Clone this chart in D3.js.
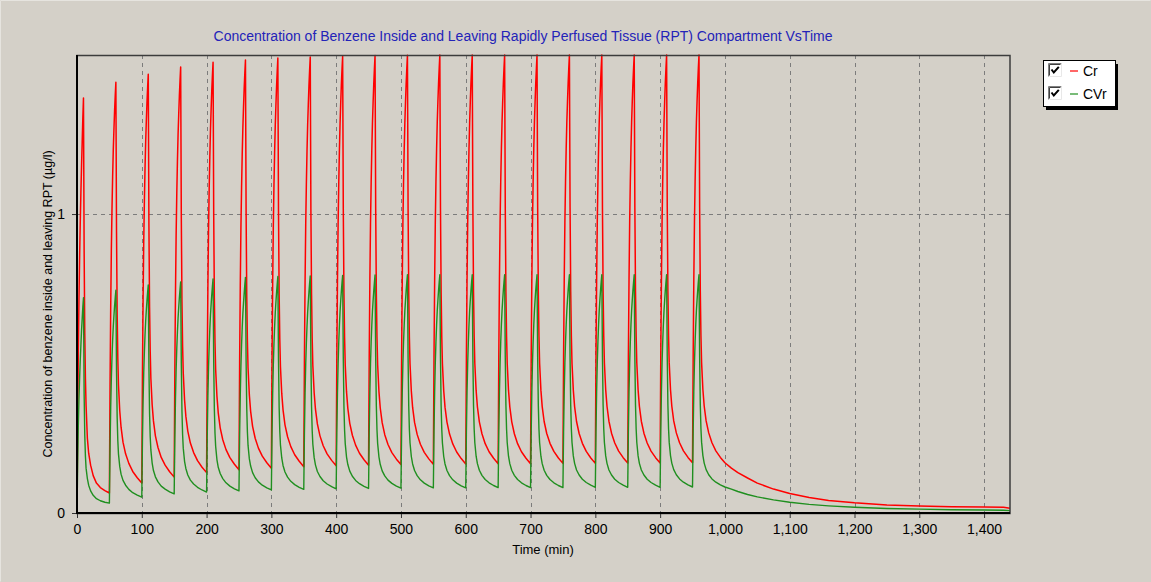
<!DOCTYPE html>
<html>
<head>
<meta charset="utf-8">
<script src="https://cdn.jsdelivr.net/npm/d3@7"></script>
<style>
  html, body { margin: 0; padding: 0; background: #d4d0c8; }
  svg { display: block; font-family: "Liberation Sans", Arial, sans-serif; }
</style>
</head>
<body>
<svg id="chart" width="1151" height="582"></svg>
<script>
// Exposure starts (min): a 10-minute exposure at the start of every 50-minute cycle
const cycleStarts = [0, 50, 100, 150, 200, 250, 300, 350, 400, 450, 500, 550, 600, 650, 700, 750, 800, 850, 900, 950];

// Minutes after each exposure start at which the model output was sampled
const sampleOffsets = [0, 1, 2, 3, 4, 5, 6, 7, 8, 9, 10, 11, 12, 13, 14, 16, 18, 21, 25, 30, 36, 43];

// Cr: concentration inside the RPT compartment (µg/l), one row per cycle
const crCycles = [
  [0.000, 0.300, 0.530, 0.710, 0.850, 0.970, 1.070, 1.160, 1.240, 1.320, 1.388, 0.880, 0.600, 0.450, 0.360, 0.250, 0.200, 0.160, 0.125, 0.100, 0.085, 0.075],
  [0.067, 0.424, 0.685, 0.878, 1.015, 1.125, 1.214, 1.283, 1.345, 1.396, 1.441, 0.940, 0.665, 0.517, 0.429, 0.341, 0.287, 0.237, 0.198, 0.166, 0.139, 0.118],
  [0.100, 0.456, 0.716, 0.907, 1.044, 1.153, 1.242, 1.311, 1.372, 1.423, 1.468, 0.965, 0.688, 0.540, 0.451, 0.362, 0.308, 0.258, 0.219, 0.186, 0.160, 0.138],
  [0.120, 0.477, 0.737, 0.929, 1.067, 1.176, 1.266, 1.334, 1.396, 1.447, 1.492, 0.985, 0.707, 0.557, 0.468, 0.379, 0.324, 0.274, 0.234, 0.202, 0.175, 0.153],
  [0.135, 0.492, 0.753, 0.945, 1.082, 1.192, 1.281, 1.350, 1.412, 1.463, 1.508, 1.000, 0.720, 0.570, 0.480, 0.390, 0.335, 0.285, 0.245, 0.212, 0.185, 0.163],
  [0.145, 0.501, 0.762, 0.953, 1.090, 1.200, 1.289, 1.357, 1.419, 1.470, 1.515, 1.005, 0.725, 0.575, 0.485, 0.395, 0.340, 0.290, 0.250, 0.217, 0.190, 0.168],
  [0.150, 0.507, 0.767, 0.959, 1.097, 1.206, 1.296, 1.364, 1.426, 1.477, 1.522, 1.010, 0.730, 0.580, 0.490, 0.400, 0.345, 0.295, 0.255, 0.222, 0.195, 0.173],
  [0.155, 0.511, 0.772, 0.963, 1.100, 1.210, 1.299, 1.367, 1.429, 1.480, 1.525, 1.013, 0.733, 0.583, 0.493, 0.403, 0.348, 0.298, 0.258, 0.225, 0.198, 0.176],
  [0.158, 0.514, 0.775, 0.966, 1.103, 1.213, 1.302, 1.370, 1.432, 1.483, 1.528, 1.015, 0.735, 0.585, 0.495, 0.405, 0.350, 0.300, 0.260, 0.227, 0.200, 0.178],
  [0.160, 0.516, 0.777, 0.968, 1.105, 1.215, 1.304, 1.372, 1.434, 1.485, 1.530, 1.017, 0.737, 0.587, 0.497, 0.407, 0.352, 0.302, 0.262, 0.229, 0.202, 0.180],
  [0.162, 0.518, 0.778, 0.970, 1.107, 1.216, 1.305, 1.374, 1.435, 1.486, 1.531, 1.018, 0.738, 0.588, 0.498, 0.408, 0.353, 0.303, 0.263, 0.230, 0.203, 0.181],
  [0.163, 0.519, 0.779, 0.971, 1.108, 1.217, 1.306, 1.375, 1.436, 1.487, 1.532, 1.019, 0.739, 0.589, 0.499, 0.409, 0.354, 0.304, 0.264, 0.231, 0.204, 0.182],
  [0.164, 0.519, 0.780, 0.971, 1.108, 1.217, 1.306, 1.375, 1.436, 1.487, 1.532, 1.020, 0.740, 0.590, 0.500, 0.410, 0.355, 0.305, 0.265, 0.232, 0.205, 0.183],
  [0.165, 0.520, 0.780, 0.972, 1.109, 1.218, 1.307, 1.375, 1.436, 1.487, 1.532, 1.020, 0.740, 0.590, 0.500, 0.410, 0.355, 0.305, 0.265, 0.232, 0.205, 0.183],
  [0.165, 0.520, 0.780, 0.972, 1.109, 1.218, 1.307, 1.375, 1.436, 1.487, 1.532, 1.021, 0.741, 0.591, 0.501, 0.411, 0.356, 0.306, 0.266, 0.233, 0.206, 0.184],
  [0.166, 0.521, 0.781, 0.972, 1.109, 1.218, 1.307, 1.375, 1.436, 1.487, 1.532, 1.021, 0.741, 0.591, 0.501, 0.411, 0.356, 0.306, 0.266, 0.233, 0.206, 0.184],
  [0.166, 0.521, 0.781, 0.972, 1.109, 1.218, 1.307, 1.375, 1.436, 1.487, 1.532, 1.022, 0.742, 0.592, 0.502, 0.412, 0.357, 0.307, 0.267, 0.234, 0.207, 0.185],
  [0.167, 0.522, 0.781, 0.973, 1.110, 1.219, 1.307, 1.376, 1.437, 1.487, 1.532, 1.022, 0.742, 0.592, 0.502, 0.412, 0.357, 0.307, 0.267, 0.234, 0.207, 0.185],
  [0.167, 0.522, 0.781, 0.973, 1.110, 1.219, 1.307, 1.376, 1.437, 1.487, 1.532, 1.023, 0.743, 0.593, 0.503, 0.413, 0.358, 0.308, 0.268, 0.235, 0.208, 0.186],
  [0.168, 0.523, 0.782, 0.973, 1.110, 1.219, 1.308, 1.376, 1.437, 1.488, 1.532, 1.023, 0.743, 0.593, 0.503, 0.413, 0.358, 0.308, 0.268, 0.235, 0.208, 0.186]
];

// CVr: concentration in venous blood leaving the RPT compartment (µg/l), one row per cycle
const cvrCycles = [
  [0.000, 0.160, 0.290, 0.380, 0.450, 0.510, 0.560, 0.610, 0.650, 0.690, 0.720, 0.400, 0.260, 0.190, 0.150, 0.115, 0.093, 0.074, 0.059, 0.048, 0.041, 0.036],
  [0.033, 0.218, 0.353, 0.450, 0.521, 0.578, 0.624, 0.660, 0.692, 0.720, 0.745, 0.474, 0.319, 0.242, 0.198, 0.155, 0.130, 0.109, 0.093, 0.079, 0.068, 0.060],
  [0.053, 0.238, 0.373, 0.469, 0.539, 0.596, 0.642, 0.678, 0.710, 0.738, 0.763, 0.489, 0.333, 0.255, 0.211, 0.167, 0.142, 0.121, 0.104, 0.090, 0.080, 0.071],
  [0.064, 0.248, 0.383, 0.479, 0.550, 0.606, 0.652, 0.688, 0.720, 0.748, 0.773, 0.498, 0.340, 0.262, 0.217, 0.173, 0.149, 0.127, 0.110, 0.097, 0.086, 0.077],
  [0.070, 0.255, 0.391, 0.487, 0.558, 0.615, 0.662, 0.697, 0.730, 0.758, 0.783, 0.505, 0.347, 0.267, 0.223, 0.178, 0.153, 0.132, 0.115, 0.101, 0.090, 0.081],
  [0.074, 0.260, 0.395, 0.492, 0.563, 0.620, 0.667, 0.702, 0.734, 0.763, 0.788, 0.509, 0.350, 0.271, 0.226, 0.181, 0.157, 0.135, 0.118, 0.104, 0.093, 0.084],
  [0.077, 0.263, 0.398, 0.495, 0.566, 0.623, 0.670, 0.705, 0.737, 0.766, 0.791, 0.512, 0.353, 0.273, 0.228, 0.184, 0.159, 0.137, 0.120, 0.106, 0.095, 0.086],
  [0.079, 0.265, 0.400, 0.497, 0.568, 0.625, 0.672, 0.707, 0.739, 0.768, 0.793, 0.515, 0.356, 0.276, 0.230, 0.186, 0.161, 0.139, 0.122, 0.108, 0.097, 0.088],
  [0.081, 0.267, 0.402, 0.499, 0.570, 0.627, 0.674, 0.709, 0.741, 0.770, 0.795, 0.517, 0.357, 0.277, 0.232, 0.187, 0.162, 0.140, 0.123, 0.109, 0.098, 0.089],
  [0.082, 0.268, 0.403, 0.500, 0.571, 0.628, 0.675, 0.710, 0.742, 0.771, 0.796, 0.518, 0.358, 0.278, 0.233, 0.188, 0.163, 0.141, 0.124, 0.110, 0.099, 0.090],
  [0.083, 0.269, 0.404, 0.501, 0.572, 0.629, 0.676, 0.711, 0.743, 0.772, 0.797, 0.519, 0.359, 0.279, 0.234, 0.189, 0.164, 0.142, 0.125, 0.111, 0.100, 0.091],
  [0.084, 0.270, 0.405, 0.502, 0.572, 0.629, 0.676, 0.711, 0.743, 0.772, 0.797, 0.519, 0.359, 0.279, 0.234, 0.189, 0.164, 0.142, 0.125, 0.111, 0.100, 0.091],
  [0.084, 0.270, 0.405, 0.502, 0.572, 0.629, 0.676, 0.711, 0.743, 0.772, 0.797, 0.520, 0.360, 0.280, 0.235, 0.190, 0.165, 0.143, 0.126, 0.112, 0.101, 0.092],
  [0.085, 0.270, 0.405, 0.502, 0.573, 0.630, 0.676, 0.712, 0.744, 0.772, 0.797, 0.520, 0.360, 0.280, 0.235, 0.190, 0.165, 0.143, 0.126, 0.112, 0.101, 0.092],
  [0.085, 0.270, 0.405, 0.502, 0.573, 0.630, 0.676, 0.712, 0.744, 0.772, 0.797, 0.520, 0.360, 0.280, 0.235, 0.190, 0.165, 0.143, 0.126, 0.112, 0.101, 0.092],
  [0.085, 0.270, 0.405, 0.502, 0.573, 0.630, 0.676, 0.712, 0.744, 0.772, 0.797, 0.521, 0.361, 0.281, 0.236, 0.191, 0.166, 0.144, 0.127, 0.113, 0.102, 0.093],
  [0.086, 0.271, 0.406, 0.503, 0.573, 0.630, 0.677, 0.712, 0.744, 0.772, 0.797, 0.521, 0.361, 0.281, 0.236, 0.191, 0.166, 0.144, 0.127, 0.113, 0.102, 0.093],
  [0.086, 0.271, 0.406, 0.503, 0.573, 0.630, 0.677, 0.712, 0.744, 0.772, 0.797, 0.521, 0.361, 0.281, 0.236, 0.191, 0.166, 0.144, 0.127, 0.113, 0.102, 0.093],
  [0.086, 0.271, 0.406, 0.503, 0.573, 0.630, 0.677, 0.712, 0.744, 0.772, 0.797, 0.522, 0.362, 0.282, 0.237, 0.192, 0.167, 0.145, 0.128, 0.114, 0.103, 0.094],
  [0.087, 0.272, 0.407, 0.503, 0.574, 0.631, 0.677, 0.712, 0.744, 0.773, 0.797, 0.522, 0.362, 0.282, 0.237, 0.192, 0.167, 0.145, 0.128, 0.114, 0.103, 0.094]
];

// Washout after the last exposure (min, µg/l)
const tailTimes = [1000, 1010, 1020, 1035, 1050, 1075, 1100, 1130, 1160, 1200, 1250, 1300, 1350, 1400, 1430, 1440];
const crTail    = [0.168, 0.150, 0.135, 0.117, 0.100, 0.080, 0.065, 0.052, 0.042, 0.034, 0.027, 0.023, 0.021, 0.020, 0.019, 0.016];
const cvrTail   = [0.087, 0.080, 0.072, 0.062, 0.054, 0.044, 0.036, 0.029, 0.024, 0.019, 0.015, 0.013, 0.011, 0.010, 0.009, 0.008];

// Axis ticks
const xTickValues = [0, 100, 200, 300, 400, 500, 600, 700, 800, 900, 1000, 1100, 1200, 1300, 1400];
const xMinorTickValues = [0, 20, 40, 60, 80, 100, 120, 140, 160, 180, 200, 220, 240, 260, 280, 300, 320, 340, 360, 380,
  400, 420, 440, 460, 480, 500, 520, 540, 560, 580, 600, 620, 640, 660, 680, 700, 720, 740, 760, 780,
  800, 820, 840, 860, 880, 900, 920, 940, 960, 980, 1000, 1020, 1040, 1060, 1080, 1100, 1120, 1140, 1160, 1180,
  1200, 1220, 1240, 1260, 1280, 1300, 1320, 1340, 1360, 1380, 1400, 1420, 1440];
const yTickValues = [0, 1];
const yMinorTickValues = [0.25, 0.5, 0.75, 1.25, 1.5];

const seriesNames = ["Cr", "CVr"];
const seriesColors = ["#ff0000", "#1f8f1f"];

const titleText = "Concentration of Benzene Inside and Leaving Rapidly Perfused Tissue (RPT) Compartment VsTime";
const xTitle = "Time (min)";
const yTitle = "Concentration of benzene inside and leaving RPT (\u00b5g/l)";

// Assemble time series from the per-cycle samples plus the washout tail
function buildSeries(cycles, tail) {
  const pts = [];
  cycles.forEach((row, k) => {
    row.forEach((v, i) => pts.push({ t: cycleStarts[k] + sampleOffsets[i], v }));
  });
  tailTimes.forEach((t, i) => pts.push({ t, v: tail[i] }));
  return pts;
}
const crSeries = buildSeries(crCycles, crTail);
const cvrSeries = buildSeries(cvrCycles, cvrTail);

const svg = d3.select("#chart");
const W = 1151, H = 582;
const plot = { left: 77, right: 1010, top: 55, bottom: 513 };
const FONT = "'Liberation Sans', Arial, sans-serif";

// Window-style panel background
svg.append("rect").attr("x", 0).attr("y", 0).attr("width", W).attr("height", H).attr("fill", "#d4d0c8");
svg.append("path").attr("d", `M0.5,${H - 0.5}V0.5H${W - 0.5}`).attr("fill", "none").attr("stroke", "#e6e4df").attr("stroke-width", 1);

const x = d3.scaleLinear().domain([0, 1440]).range([plot.left, plot.right]);
const y = d3.scaleLinear().domain([0, 1.532]).range([plot.bottom, plot.top]);

// Dashed grid
const grid = svg.append("g").attr("stroke", "#7c7c7c").attr("stroke-dasharray", "4,4").attr("stroke-width", 1);
grid.selectAll("line.gx").data(xTickValues.filter(d => d > 0)).join("line")
  .attr("class", "gx")
  .attr("x1", d => Math.round(x(d)) + 0.5).attr("x2", d => Math.round(x(d)) + 0.5)
  .attr("y1", plot.top).attr("y2", plot.bottom);
grid.selectAll("line.gy").data(yTickValues.filter(d => d > 0)).join("line")
  .attr("class", "gy")
  .attr("x1", plot.left).attr("x2", plot.right)
  .attr("y1", d => Math.round(y(d)) + 0.5).attr("y2", d => Math.round(y(d)) + 0.5);

// Series lines, clipped to the plot area
svg.append("clipPath").attr("id", "plotClip").append("rect")
  .attr("x", plot.left).attr("y", plot.top - 1)
  .attr("width", plot.right - plot.left).attr("height", plot.bottom - plot.top + 1);

const line = d3.line().x(d => x(d.t)).y(d => y(d.v)).curve(d3.curveLinear);
const lines = svg.append("g").attr("clip-path", "url(#plotClip)");
lines.append("path").datum(crSeries).attr("d", line)
  .attr("fill", "none").attr("stroke", seriesColors[0]).attr("stroke-width", 1.5).attr("stroke-linejoin", "round");
lines.append("path").datum(cvrSeries).attr("d", line)
  .attr("fill", "none").attr("stroke", seriesColors[1]).attr("stroke-width", 1.4).attr("stroke-linejoin", "round");

// Plot frame
svg.append("rect")
  .attr("x", plot.left).attr("y", plot.top + 0.5)
  .attr("width", plot.right - plot.left).attr("height", plot.bottom - plot.top)
  .attr("fill", "none").attr("stroke", "#3c3c3c").attr("stroke-width", 1.5);

// X axis
const xAxis = svg.append("g").attr("transform", `translate(0,${plot.bottom})`);
xAxis.call(d3.axisBottom(x).tickValues(xMinorTickValues).tickSize(3).tickFormat(""));
xAxis.call(d3.axisBottom(x).tickValues(xTickValues).tickSize(5).tickPadding(6).tickFormat(d3.format(",")));
xAxis.selectAll(".domain").remove();
xAxis.selectAll(".tick line").attr("stroke", "#333");
xAxis.selectAll("text").attr("font-size", 14).attr("fill", "#000").attr("font-family", FONT);

// Y axis
const yAxis = svg.append("g").attr("transform", `translate(${plot.left},0)`);
yAxis.call(d3.axisLeft(y).tickValues(yMinorTickValues).tickSize(3).tickFormat(""));
yAxis.call(d3.axisLeft(y).tickValues(yTickValues).tickSize(5).tickPadding(7).tickFormat(d3.format("d")));
yAxis.selectAll(".domain").remove();
yAxis.selectAll(".tick line").attr("stroke", "#333");
yAxis.selectAll("text").attr("font-size", 14).attr("fill", "#000").attr("font-family", FONT);

// Heavy axis lines on left and bottom
svg.append("line").attr("x1", plot.left).attr("x2", plot.left).attr("y1", plot.top).attr("y2", plot.bottom + 1)
  .attr("stroke", "#000").attr("stroke-width", 2);
svg.append("line").attr("x1", plot.left - 1).attr("x2", plot.right).attr("y1", plot.bottom).attr("y2", plot.bottom)
  .attr("stroke", "#000").attr("stroke-width", 2);

// Titles
svg.append("text").attr("x", 523).attr("y", 41).attr("text-anchor", "middle")
  .attr("font-size", 14).attr("fill", "#2323b8").text(titleText);
svg.append("text").attr("x", 543).attr("y", 554).attr("text-anchor", "middle")
  .attr("font-size", 13).attr("fill", "#000").text(xTitle);
svg.append("text").attr("transform", "translate(52,304) rotate(-90)").attr("text-anchor", "middle")
  .attr("font-size", 12.5).attr("fill", "#000").text(yTitle);

// Legend with checkboxes
const lg = svg.append("g").attr("transform", "translate(1043,60)");
lg.append("rect").attr("x", 3).attr("y", 4).attr("width", 72).attr("height", 46).attr("fill", "#000");
lg.append("rect").attr("x", 0.5).attr("y", 0.5).attr("width", 72).attr("height", 46)
  .attr("fill", "#fff").attr("stroke", "#000").attr("stroke-width", 1);
seriesNames.forEach((name, i) => {
  const row = lg.append("g").attr("transform", `translate(5,${3 + i * 23})`);
  // sunken checkbox
  row.append("rect").attr("x", 0).attr("y", 0).attr("width", 14).attr("height", 14).attr("fill", "#fff");
  row.append("path").attr("d", "M0.5,13.5V0.5H13.5").attr("fill", "none").attr("stroke", "#808080");
  row.append("path").attr("d", "M1.5,12.5V1.5H12.5").attr("fill", "none").attr("stroke", "#404040");
  row.append("path").attr("d", "M1.5,13.5H13.5V0.5").attr("fill", "none").attr("stroke", "#e8e8e8");
  row.append("path").attr("d", "M3.5,6.5L5.8,9.5L10.8,3.8").attr("fill", "none").attr("stroke", "#000").attr("stroke-width", 2);
  row.append("line").attr("x1", 22).attr("x2", 30).attr("y1", 8).attr("y2", 8)
    .attr("stroke", seriesColors[i]).attr("stroke-width", 1.2);
  row.append("text").attr("x", 35).attr("y", 12.5).attr("font-size", 14).attr("fill", "#000").text(name);
});
</script>
</body>
</html>
